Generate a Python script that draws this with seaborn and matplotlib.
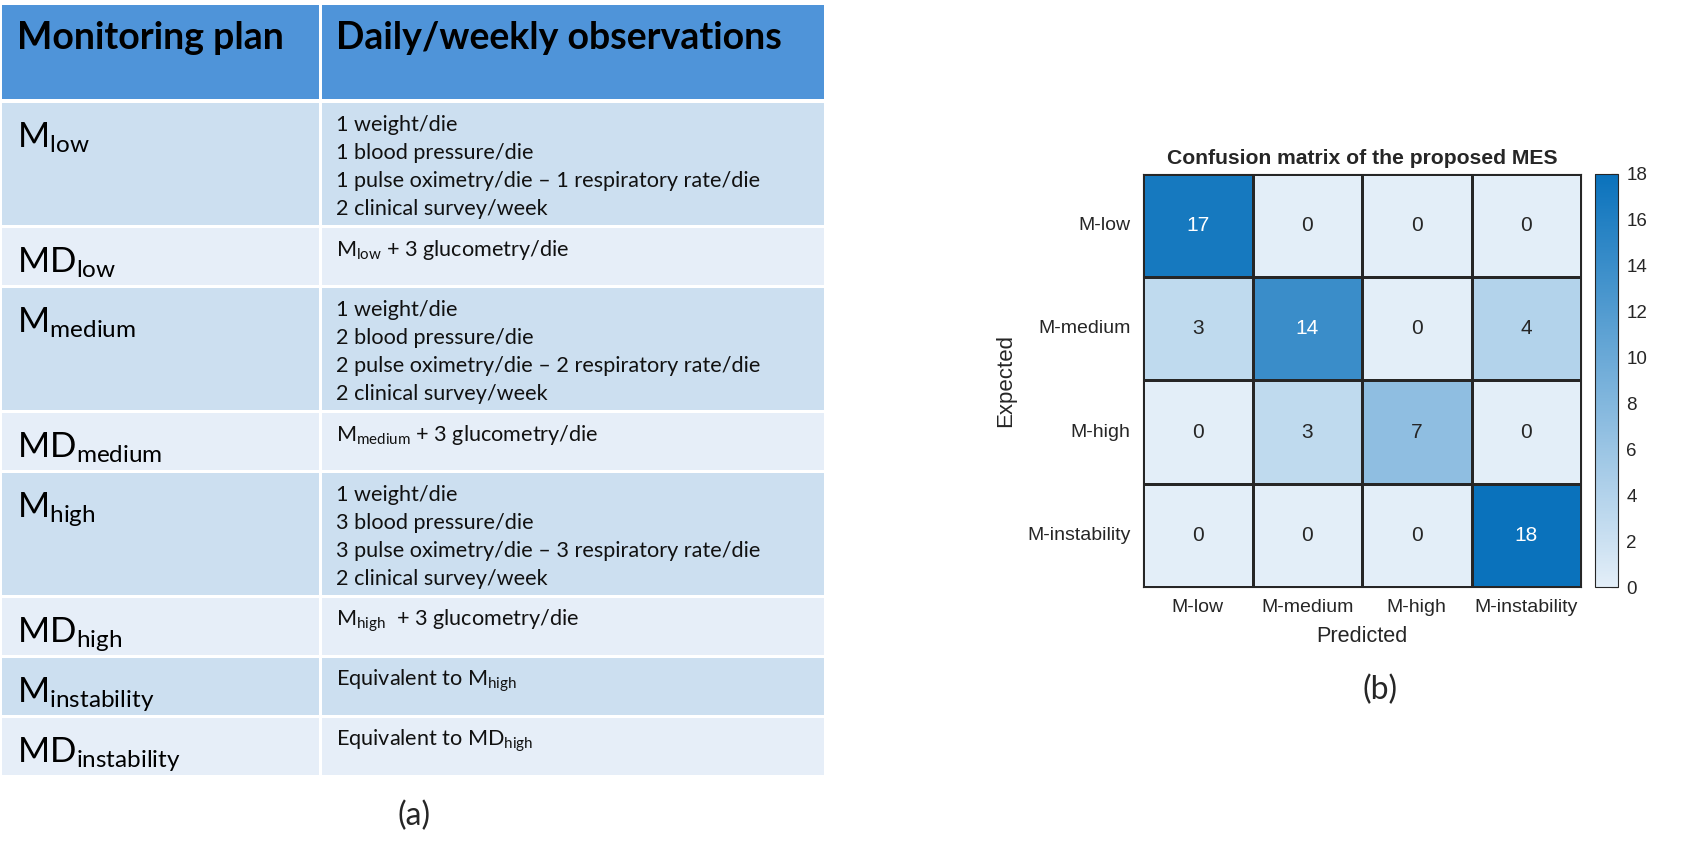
import numpy as np
import pandas as pd
import matplotlib
matplotlib.use("Agg")
import matplotlib.pyplot as plt
import seaborn as sns
from matplotlib.colors import LinearSegmentedColormap
from matplotlib.patches import Rectangle

# ---- (a) monitoring plans table ----
plan_prefix = ["M", "MD", "M", "MD", "M", "MD", "M", "MD"]
plan_level = ["low", "low", "medium", "medium", "high", "high", "instability", "instability"]
observations = [
    ["1 weight/die", "1 blood pressure/die",
     "1 pulse oximetry/die \u2013 1 respiratory rate/die", "2 clinical survey/week"],
    [r"M$_\mathrm{low}$ + 3 glucometry/die"],
    ["1 weight/die", "2 blood pressure/die",
     "2 pulse oximetry/die \u2013 2 respiratory rate/die", "2 clinical survey/week"],
    [r"M$_\mathrm{medium}$ + 3 glucometry/die"],
    ["1 weight/die", "3 blood pressure/die",
     "3 pulse oximetry/die \u2013 3 respiratory rate/die", "2 clinical survey/week"],
    [r"M$_\mathrm{high}$  + 3 glucometry/die"],
    [r"Equivalent to M$_\mathrm{high}$"],
    [r"Equivalent to MD$_\mathrm{high}$"],
]
header = ["Monitoring plan", "Daily/weekly observations"]

# ---- (b) confusion matrix ----
classes = ["M-low", "M-medium", "M-high", "M-instability"]
counts = [[17, 0, 0, 0],
          [3, 14, 0, 4],
          [0, 3, 7, 0],
          [0, 0, 0, 18]]

W, H = 1684, 857
sns.set_style("white")
plt.rcParams["font.family"] = ["Lato", "DejaVu Sans"]
plt.rcParams["mathtext.fontset"] = "custom"
plt.rcParams["mathtext.rm"] = "Lato"
plt.rcParams["mathtext.it"] = "Lato:italic"
plt.rcParams["mathtext.bf"] = "Lato:bold"

fig = plt.figure(figsize=(W / 100, H / 100), dpi=100)

# table drawn in pixel coordinates
at = fig.add_axes([0, 0, 1, 1])
at.set_xlim(0, W)
at.set_ylim(H, 0)
at.axis("off")

x_left, x_div, x_right = 2, 320, 824
gap = 3
dark, light, head = "#CCDFF0", "#E6EEF8", "#4F94D9"

at.add_patch(Rectangle((x_left, 5), x_div - 1.5 - x_left, 94, color=head, lw=0))
at.add_patch(Rectangle((x_div + 1.5, 5), x_right - x_div - 1.5, 94, color=head, lw=0))
at.text(17, 49, header[0], fontsize=27, fontweight="bold", color="black")
at.text(336, 49, header[1], fontsize=27, fontweight="bold", color="black")

y = 99 + gap + 1
for i, (pre, lev, obs) in enumerate(zip(plan_prefix, plan_level, observations)):
    h = 122 if len(obs) > 1 else 57
    c = dark if i % 2 == 0 else light
    at.add_patch(Rectangle((x_left, y), x_div - 1.5 - x_left, h, color=c, lw=0))
    at.add_patch(Rectangle((x_div + 1.5, y), x_right - x_div - 1.5, h, color=c, lw=0))
    at.text(17, y + 45, pre + r"$_\mathrm{" + lev + "}$", fontsize=25, color="black",
            va="baseline")
    for j, line in enumerate(obs):
        at.text(336, y + 28 + 28 * j, line, fontsize=15.6, color="#111111", va="baseline")
    y += h + gap

at.text(414, 816, "(a)", fontsize=23, ha="center", va="center")
at.text(1380, 690, "(b)", fontsize=23, ha="center", va="center")

# confusion matrix
ax = fig.add_axes([1143 / W, 1 - 587 / H, 438 / W, 413 / H])
cax = fig.add_axes([1595 / W, 1 - 587 / H, 23 / W, 413 / H])
cmap = LinearSegmentedColormap.from_list("mes", ["#E3EEF8", "#0A72BC"])
df = pd.DataFrame(counts, index=classes, columns=classes)
mfont = "Liberation Sans"
txt = "#262626"
sns.heatmap(df, ax=ax, cbar_ax=cax, cmap=cmap, vmin=0, vmax=18, annot=True, fmt="d",
            linewidths=0.8, linecolor=txt,
            annot_kws={"fontsize": 15, "family": mfont},
            cbar_kws={"ticks": np.arange(0, 19, 2)})
for s in ax.spines.values():
    s.set_visible(True)
    s.set_color(txt)
    s.set_linewidth(0.8)
ax.tick_params(length=0, pad=9)
ax.set_yticklabels(classes, rotation=0, fontsize=14, family=mfont, color=txt)
ax.set_xticklabels(classes, rotation=0, fontsize=14, family=mfont, color=txt)
ax.set_xlabel("Predicted", fontsize=15.6, family=mfont, color=txt, labelpad=7)
ax.set_ylabel("Expected", fontsize=16, family=mfont, color=txt, labelpad=8)
ax.set_title("Confusion matrix of the proposed MES", fontsize=15.2, fontweight="bold",
             family=mfont, color=txt, pad=7)

cbar = ax.collections[0].colorbar
cbar.outline.set_edgecolor(txt)
cbar.outline.set_linewidth(0.8)
cax.tick_params(direction="in", length=5, width=0.8, color=txt, labelsize=13.5,
                labelcolor=txt, pad=6)
for t in cax.get_yticklabels():
    t.set_family(mfont)

fig.savefig("out.png", dpi=100, facecolor="white")
